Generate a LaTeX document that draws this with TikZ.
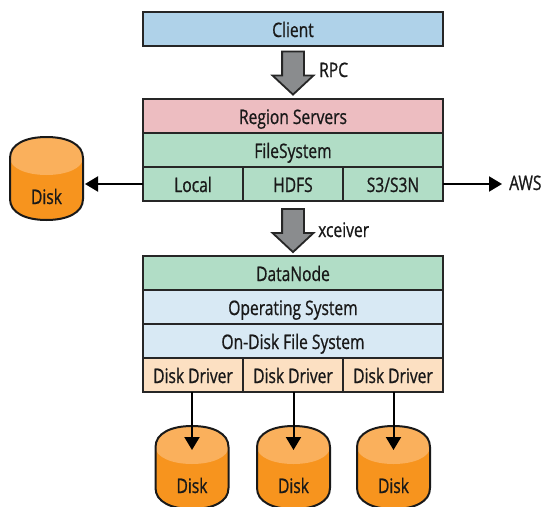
\documentclass[tikz,border=0pt]{standalone}
\usepackage{fontspec}
\setmainfont[FakeStretch=0.78,FakeBold=0.8]{Open Sans}
\usetikzlibrary{arrows.meta,shapes.arrows}
\definecolor{cblue}{HTML}{AFD2E9}
\definecolor{cpink}{HTML}{EDBDC1}
\definecolor{cgreen}{HTML}{B1DDC6}
\definecolor{clight}{HTML}{D8E9F4}
\definecolor{cpeach}{HTML}{FCE0C2}
\definecolor{cdisk}{HTML}{F7941E}
\definecolor{cdiskt}{HTML}{FAB05C}
\definecolor{cgrey}{HTML}{8A8C8E}
\tikzset{
  x=1pt,y=-1pt,
  lbl/.style={font=\fontsize{20}{20}\selectfont,text=black!90,inner sep=0pt,text height=19pt,text depth=3pt},
  layer/.style={lbl,draw=black!85,line width=2pt,minimum height=34pt,minimum width=300pt,anchor=north west,outer sep=0pt},
  cell/.style={layer,minimum width=100pt},
  conn/.style={draw=black,line width=2pt,-{Triangle[length=13pt,width=15pt]}},
  block/.style={single arrow,draw=black!85,fill=cgrey,line width=1.8pt,rotate=-90,minimum height=43pt,minimum width=39pt,single arrow head extend=9.5pt,single arrow tip angle=94,inner xsep=0pt,inner ysep=10pt,outer sep=0pt},
}
\newcommand{\diskat}[3]{% name, left x, top y
  \begin{scope}[shift={(#2,#3)}]
    \fill[cdisk] (0,21) .. controls (0,7) and (16,0) .. (36.5,0) .. controls (57,0) and (73,7) .. (73,21) -- (73,62) .. controls (73,76) and (57,83) .. (36.5,83) .. controls (16,83) and (0,76) .. (0,62) -- cycle;
    \fill[cdiskt] (0,21) .. controls (0,7) and (16,0) .. (36.5,0) .. controls (57,0) and (73,7) .. (73,21) .. controls (73,31) and (57,38) .. (36.5,38) .. controls (16,38) and (0,31) .. (0,21) -- cycle;
    \draw[black!90,line width=2pt] (0,21) .. controls (0,7) and (16,0) .. (36.5,0) .. controls (57,0) and (73,7) .. (73,21) -- (73,62) .. controls (73,76) and (57,83) .. (36.5,83) .. controls (16,83) and (0,76) .. (0,62) -- cycle;
    \node[lbl,anchor=center] (#1) at (36.5,59) {Disk};
    \coordinate (#1top) at (36.5,24);
    \coordinate (#1right) at (75,47);
  \end{scope}}
\begin{document}
\begin{tikzpicture}
\useasboundingbox (0,0) rectangle (543,506);
\node[layer,fill=cblue] (client) at (143,12) {Client};
\node[layer,fill=cpink] (rs) at (143,99) {Region Servers};
\node[layer,fill=cgreen] (fs) at (143,133) {FileSystem};
\node[cell,fill=cgreen] (local) at (143,167) {Local};
\node[cell,fill=cgreen] (hdfs) at (243,167) {HDFS};
\node[cell,fill=cgreen] (s3) at (343,167) {S3/S3N};
\node[layer,fill=cgreen] (dn) at (143,256) {DataNode};
\node[layer,fill=clight] (os) at (143,290) {Operating System};
\node[layer,fill=clight] (odfs) at (143,324) {On-Disk File System};
\node[cell,fill=cpeach] (dd1) at (143,358) {Disk Driver};
\node[cell,fill=cpeach] (dd2) at (243,358) {Disk Driver};
\node[cell,fill=cpeach] (dd3) at (343,358) {Disk Driver};
\node[block] (a1) at (293,68) {};
\node[block] (a2) at (293,225.5) {};
\node[lbl,anchor=west] (rpc) at (319,69) {RPC};
\node[lbl,anchor=west] (xc) at (318,229) {xceiver};
\diskat{d0}{10}{137}
\diskat{d1}{155.5}{426}
\diskat{d2}{257}{426}
\diskat{d3}{357}{426}
\node[lbl,anchor=west] (aws) at (509,182) {AWS};
\draw[conn] (local.west) -- (local.west -| d0right);
\draw[conn,shorten >=7pt] (s3.east) -- (s3.east -| aws.west);
\draw[conn] (dd1.south -| d1top) -- (d1top);
\draw[conn] (dd2.south -| d2top) -- (d2top);
\draw[conn] (dd3.south -| d3top) -- (d3top);
\end{tikzpicture}
\end{document}
